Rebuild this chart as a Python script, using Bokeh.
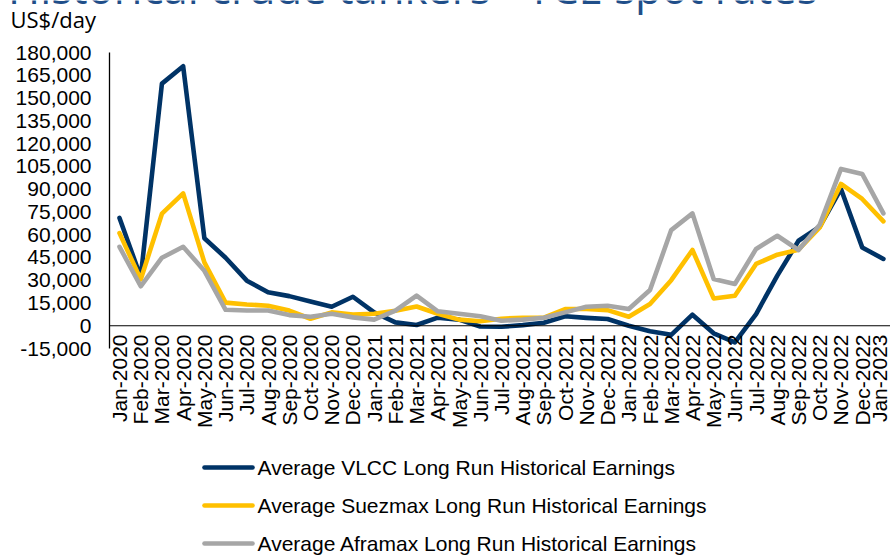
import math
from bokeh.plotting import figure
from bokeh.layouts import column
from bokeh.models import (Range1d, FixedTicker, Label)
from bokeh.core.properties import value
from bokeh.embed import file_html
from bokeh.resources import INLINE

months = ["Jan-2020", "Feb-2020", "Mar-2020", "Apr-2020", "May-2020", "Jun-2020",
          "Jul-2020", "Aug-2020", "Sep-2020", "Oct-2020", "Nov-2020", "Dec-2020",
          "Jan-2021", "Feb-2021", "Mar-2021", "Apr-2021", "May-2021", "Jun-2021",
          "Jul-2021", "Aug-2021", "Sep-2021", "Oct-2021", "Nov-2021", "Dec-2021",
          "Jan-2022", "Feb-2022", "Mar-2022", "Apr-2022", "May-2022", "Jun-2022",
          "Jul-2022", "Aug-2022", "Sep-2022", "Oct-2022", "Nov-2022", "Dec-2022",
          "Jan-2023"]

vlcc = [71000, 32000, 159500, 171000, 57600, 44800, 29700, 22000, 19500, 16000,
        12500, 19100, 8800, 2200, 500, 5300, 4000, -500, -700, 400, 2000, 6200,
        5200, 4400, 0, -3700, -6000, 7300, -5000, -11000, 7700, 33000, 56000,
        65300, 90100, 51600, 44000]
suezmax = [61000, 30500, 73800, 87200, 41700, 15200, 14000, 13200, 10000, 4600,
           8800, 7300, 7900, 9900, 12700, 7900, 4000, 2900, 4600, 5300, 5300,
           11000, 11000, 10300, 5900, 14300, 30000, 49900, 18000, 19800, 40700,
           46800, 50100, 64800, 93400, 83500, 68800]
aframax = [52000, 26000, 44800, 52000, 36200, 10500, 10000, 10000, 7000, 5900,
           7900, 5500, 4000, 9900, 19800, 9500, 7900, 6200, 3300, 4000, 5300,
           8800, 12500, 13200, 11000, 23500, 63000, 74000, 30800, 27500, 50600,
           59300, 49900, 66600, 103300, 100000, 74000]

series_names = ["Average VLCC Long Run Historical Earnings",
                "Average Suezmax Long Run Historical Earnings",
                "Average Aframax Long Run Historical Earnings"]
colors = ["#003366", "#FFC000", "#A6A6A6"]
y_min, y_max, y_step = -15000, 180000, 15000
y_ticks = list(range(y_min, y_max + 1, y_step))
y_tick_labels = [f"{v:,}" for v in y_ticks]

title_text = "Historical crude tankers - TCE spot rates"
unit_text = "US$/day"

# ---- layout constants (pixels) ----
W, H1, H2 = 890, 445, 110
AX_X = 109          # y-axis line
PLOT_TOP = 52       # y position of y_max
PLOT_BOT = 348      # y position of y_min
FB = 362            # frame bottom
X_FIRST = 119       # first category centre
X_STEP = 21.22      # category spacing

# the frame covers the whole canvas width and the top, so texts outside the
# plotting area are not clipped; scales convert pixels <-> data
X0 = -X_FIRST / X_STEP
X1 = (W - X_FIRST) / X_STEP
py = (PLOT_BOT - PLOT_TOP) / (y_max - y_min)     # px per data unit

def xd(px):
    return (px - X_FIRST) / X_STEP

def yd(px):
    return y_max - (px - PLOT_TOP) / py

p = figure(width=W, height=H1, output_backend="svg", toolbar_location=None,
           x_range=Range1d(X0, X1), y_range=Range1d(yd(FB), yd(0)), y_axis_type=None,
           min_border_left=0, min_border_right=0, min_border_top=0,
           min_border_bottom=H1 - FB)
p.title.visible = False
p.outline_line_color = None
p.grid.visible = False

xs = list(range(len(months)))
for vals, c in zip([vlcc, suezmax, aframax], colors):
    p.line(xs, vals, line_color=c, line_width=4.6, line_join="round", line_cap="round")

# y axis: line + tick labels
p.segment(x0=[xd(AX_X)], x1=[xd(AX_X)], y0=[y_min], y1=[y_max], line_color="black",
          line_width=1.3)
p.text(x=[xd(AX_X - 18)] * len(y_ticks), y=y_ticks, text=y_tick_labels,
       text_align="right", text_baseline="middle", text_font=value("Liberation Sans"),
       text_font_size="21px", text_color="black")
# zero line
p.segment(x0=[xd(AX_X)], x1=[X1], y0=[0], y1=[0], line_color="black", line_width=1.2)

xa = p.xaxis[0]
xa.ticker = FixedTicker(ticks=xs)
xa.major_label_overrides = {i: m for i, m in enumerate(months)}
xa.axis_line_color = None
xa.major_tick_line_color = None
xa.minor_tick_line_color = None
xa.major_label_orientation = math.pi / 2
xa.major_label_standoff = -(FB - PLOT_BOT) - 20
xa.major_label_text_font = "Liberation Sans"
xa.major_label_text_font_size = "21px"
xa.major_label_text_color = "black"

# heading (cut by the top edge as in the reference) and unit label; labels are
# anchored at their vertical centre
p.add_layout(Label(x=xd(817), y=yd(-13.5), text=title_text,
                   text_font="Open Sans", text_font_size="43.6px", text_color="#1F4E89",
                   text_baseline="middle", text_align="right"))
p.add_layout(Label(x=xd(10), y=yd(18), text=unit_text,
                   text_font="Open Sans", text_font_size="22px", text_color="black",
                   text_baseline="middle", text_align="left"))

# legend panel (frame aligned with the chart frame, x in page pixels)
lg = figure(width=W, height=H2, output_backend="svg", toolbar_location=None,
            x_range=Range1d(0, W), y_range=Range1d(H2, 0),
            x_axis_type=None, y_axis_type=None, min_border=0)
lg.title.visible = False
lg.outline_line_color = None
lg.grid.visible = False
rows = [22 + 38 * i for i in range(len(series_names))]
lg.segment(x0=[204] * 3, x1=[252] * 3, y0=rows, y1=rows, line_color=colors,
           line_width=4.6, line_cap="round")
lg.text(x=[257] * 3, y=rows, text=series_names, text_baseline="middle",
        text_align="left", text_font=value("Liberation Sans"), text_font_size="21px",
        text_color="black")

layout = column(p, lg, spacing=0)
open("out.html", "w").write(file_html(layout, INLINE))
